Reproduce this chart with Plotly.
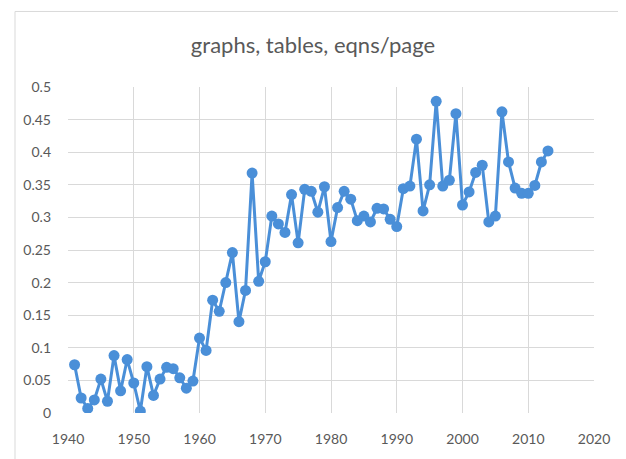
import plotly.graph_objects as go

years = list(range(1941, 2014))
values = [
    0.074, 0.023, 0.007, 0.020, 0.052, 0.018, 0.088, 0.034, 0.082, 0.046,
    0.003, 0.071, 0.027, 0.052, 0.070, 0.068, 0.054, 0.038, 0.049, 0.115,
    0.096, 0.173, 0.156, 0.200, 0.246, 0.140, 0.188, 0.368, 0.202, 0.232,
    0.302, 0.290, 0.277, 0.335, 0.261, 0.343, 0.340, 0.308, 0.347, 0.263,
    0.315, 0.340, 0.328, 0.295, 0.302, 0.293, 0.314, 0.313, 0.297, 0.286,
    0.344, 0.348, 0.420, 0.310, 0.350, 0.478, 0.348, 0.357, 0.459, 0.319,
    0.339, 0.369, 0.380, 0.293, 0.302, 0.462, 0.385, 0.345, 0.337, 0.337,
    0.349, 0.385, 0.402,
]
title_text = "graphs, tables, eqns/page"

font_family = "Lato, 'Open Sans', sans-serif"
grey = "#595959"
grid = "#d9d9d9"
blue = "#4a8fd8"

# page body has 8px default margin -> figure coordinates offset by 8
W, H = 618, 451
L, R, T, B = 60, 32, 79, 44
pw, ph = W - L - R, H - T - B

fig = go.Figure()
fig.add_trace(go.Scatter(
    x=years, y=values, mode="lines+markers",
    line=dict(color=blue, width=3),
    marker=dict(color=blue, size=11),
    showlegend=False, hoverinfo="x+y",
))

fig.update_layout(
    width=W, height=H,
    margin=dict(l=L, r=R, t=T, b=B),
    paper_bgcolor="white", plot_bgcolor="white",
    title=dict(text=title_text, x=(313 - 8) / W, xanchor="center", y=1 - 37 / H, yanchor="middle",
               font=dict(family=font_family, size=22, color=grey)),
    font=dict(family=font_family, size=14, color=grey),
    xaxis=dict(range=[1940, 2020], dtick=10, tick0=1940, showgrid=True, gridcolor=grid,
               gridwidth=1, zeroline=False, showline=False, ticks="",
               ticklabelstandoff=16,
               tickfont=dict(size=14, color=grey)),
    yaxis=dict(range=[0, 0.5], dtick=0.05, tick0=0, showgrid=True, gridcolor=grid,
               gridwidth=1, zeroline=False, showline=False, ticks="",
               tickformat="~g", ticklabelstandoff=16,
               tickfont=dict(size=14, color=grey)),
    shapes=[dict(type="rect", xref="paper", yref="paper",
                 x0=(7 - L) / pw, x1=(615 - L) / pw,
                 y0=-0.2, y1=(T + ph - 3) / ph,
                 line=dict(color=grid, width=1), fillcolor="rgba(0,0,0,0)", layer="below")],
)

fig.write_html("out.html")
